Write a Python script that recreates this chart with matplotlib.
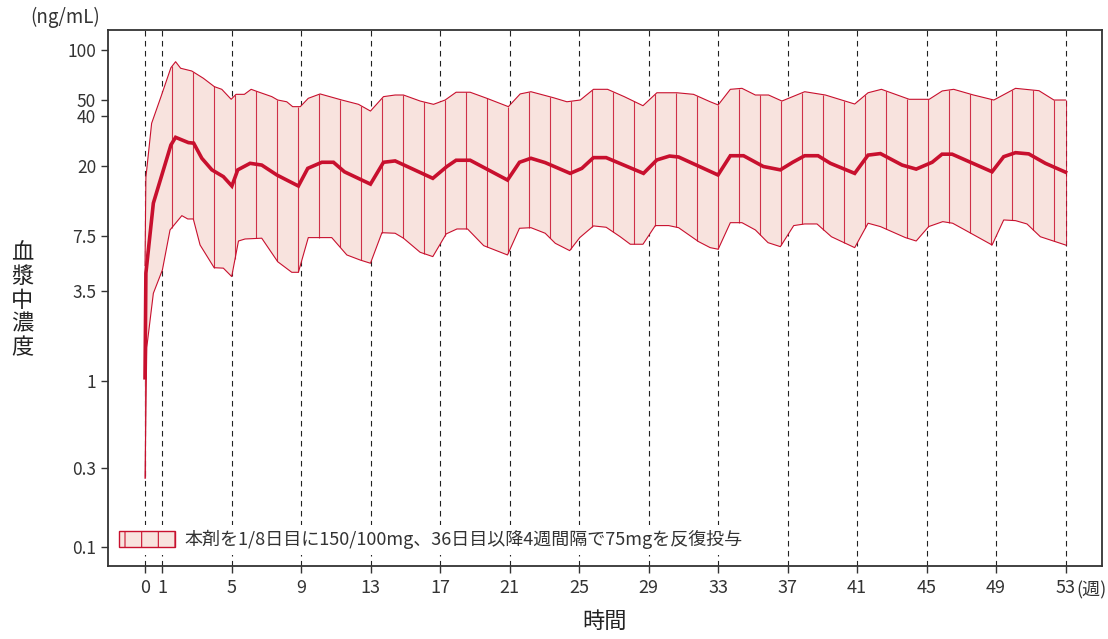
import numpy as np
import matplotlib
matplotlib.use('Agg')
import matplotlib.pyplot as plt
from matplotlib.patches import Patch

plt.rcParams['font.family'] = ['Noto Sans CJK JP', 'DejaVu Sans']

# 中央値 (weeks, ng/mL)
med_t = [0, 0.05, 0.48, 1.49, 1.76, 2.5, 2.8, 3.27, 3.85, 4.51, 5.0, 5.34, 6.05, 6.72, 7.59,
         8.83, 9.37, 10.18, 10.85, 11.48, 12.98, 13.73, 14.4, 16.57, 17.38, 17.91, 18.72,
         20.87, 21.56, 22.22, 23.04, 24.48, 25.15, 25.82, 26.55, 28.7, 29.47, 30.2, 30.72,
         32.99, 33.7, 34.46, 35.6, 36.58, 37.29, 37.98, 38.75, 39.46, 40.86, 41.63, 42.34,
         43.59, 44.4, 45.32, 45.89, 46.47, 48.77, 49.44, 50.12, 50.88, 51.84, 53]
med_v = [1.05, 4.5, 11.9, 26.7, 29.7, 27.6, 27.4, 22.2, 18.9, 17.2, 15.1, 18.9, 20.7, 20.2, 17.6,
         15.1, 19.3, 21.0, 21.0, 18.4, 15.5, 21.0, 21.4, 16.8, 19.8, 21.6, 21.6,
         16.4, 21.0, 22.2, 20.9, 18.0, 19.3, 22.4, 22.4, 18.0, 21.7, 22.9, 22.6,
         17.6, 23.0, 23.0, 19.8, 18.9, 21.0, 23.0, 23.0, 20.7, 18.0, 23.2, 23.7,
         20.2, 19.1, 21.0, 23.5, 23.5, 18.4, 22.7, 24.0, 23.6, 20.7, 18.3]

# 上限
up_t = [0, 0.05, 0.38, 0.92, 1.49, 1.76, 2.05, 2.69, 3.36, 3.99, 4.42, 4.96, 5.24, 5.72, 6.11,
        6.49, 7.3, 7.64, 8.16, 8.5, 8.94, 9.4, 10.08, 11.33, 12.29, 12.98, 13.73, 14.4, 14.88,
        15.84, 16.61, 17.28, 17.91, 18.72, 19.68, 20.92, 21.6, 22.22, 23.52, 24.29, 25.06,
        25.82, 26.63, 27.59, 28.67, 29.47, 30.62, 31.58, 32.54, 33.0, 33.7, 34.37, 35.14,
        35.9, 36.67, 37.98, 39.17, 40.86, 41.63, 42.4, 44.0, 45.15, 45.9, 46.56, 47.7,
        48.87, 50.12, 51.47, 52.33, 53]
up_v = [5.0, 17.0, 36.1, 52.3, 78.2, 85.0, 77.6, 74.7, 67.5, 60.1, 57.9, 50.4, 54.0, 54.0, 57.9,
        56.0, 52.3, 49.9, 48.7, 45.5, 45.5, 51.1, 54.3, 49.9, 47.0, 42.8, 52.3, 53.5, 53.5,
        49.2, 47.0, 49.9, 55.6, 55.6, 51.1, 45.5, 54.3, 56.0, 51.5, 48.7, 49.9,
        57.9, 57.9, 52.3, 46.1, 55.2, 55.2, 54.0, 48.7, 46.6, 57.9, 58.7, 53.5,
        53.5, 49.2, 56.0, 53.5, 47.2, 55.2, 57.9, 50.4, 50.4, 56.6, 57.9, 53.5,
        49.9, 58.7, 56.8, 49.9, 49.9]

# 下限
lo_t = [0, 0.1, 0.48, 1.0, 1.44, 2.12, 2.46, 2.78, 3.17, 3.98, 4.51, 4.99, 5.38, 5.76, 6.72,
        7.64, 8.45, 8.83, 9.4, 10.75, 11.62, 12.38, 12.98, 13.64, 14.4, 14.88, 15.84, 16.57,
        17.34, 17.96, 18.57, 19.5, 20.87, 21.56, 22.22, 23.04, 23.62, 24.45, 25.03, 25.82,
        26.55, 27.36, 27.94, 28.67, 29.38, 30.15, 30.72, 31.87, 32.54, 33.0, 33.7, 34.37,
        35.14, 35.87, 36.58, 37.35, 37.98, 38.69, 39.52, 40.86, 41.63, 42.34, 43.78, 44.4,
        45.12, 45.93, 46.5, 47.13, 48.77, 49.44, 50.12, 50.78, 51.55, 53]
lo_v = [0.26, 1.6, 3.4, 4.7, 8.2, 10.0, 9.55, 9.55, 6.65, 4.85, 4.82, 4.29, 7.03, 7.23, 7.31,
        5.27, 4.55, 4.55, 7.37, 7.37, 5.79, 5.40, 5.16, 7.89, 7.83, 7.31, 6.01, 5.66,
        7.76, 8.31, 8.31, 6.59, 5.79, 8.39, 8.46, 7.83, 6.81, 6.15, 7.37, 8.67,
        8.51, 7.46, 6.72, 6.72, 8.71, 8.71, 8.46, 6.97, 6.41, 6.27, 9.07, 9.07,
        8.2, 6.87, 6.50, 8.71, 8.91, 8.91, 7.46, 6.41, 9.0, 8.59, 7.37, 7.03,
        8.59, 9.2, 9.0, 8.28, 6.65, 9.42, 9.33, 8.91, 7.46, 6.65]

dose_weeks = [0, 1, 5, 9, 13, 17, 21, 25, 29, 33, 37, 41, 45, 49, 53]
yticks = [0.1, 0.3, 1, 3.5, 7.5, 20, 40, 50, 100]
ytick_labels = ['0.1', '0.3', '1', '3.5', '7.5', '20', '40', '50', '100']
legend_label = '本剤を1/8日目に150/100mg、36日目以降4週間隔で75mgを反復投与'

red = '#c8102e'
pink = '#f8e3de'


def log_interp(x, t, v):
    return 10 ** np.interp(x, t, np.log10(v))


fig = plt.figure(figsize=(11.08, 6.39), dpi=100)
ax = fig.add_axes([0.0975, 0.1142, 0.8971, 0.8388])
ax.set_yscale('log')

# band
x_all = np.union1d(up_t, lo_t)
ax.fill_between(x_all, log_interp(x_all, lo_t, lo_v), log_interp(x_all, up_t, up_v),
                facecolor=pink, edgecolor='none', zorder=2)
ax.plot(up_t, up_v, color=red, lw=0.8, zorder=3)
ax.plot(lo_t, lo_v, color=red, lw=0.8, zorder=3)

# vertical hatching inside the band
hatch_x = np.append(np.arange(1.555, 53, 1.2097), [0, 53])
ax.vlines(hatch_x, log_interp(hatch_x, lo_t, lo_v), log_interp(hatch_x, up_t, up_v),
          color=red, lw=0.8, alpha=0.85, zorder=3)

# median
ax.plot(med_t, med_v, color=red, lw=2.6, solid_joinstyle='miter', zorder=4)

# dosing reference lines
for w in dose_weeks:
    ax.axvline(w, color='#222222', lw=0.8, ls=(0, (5, 4)), zorder=1)

ax.set_xlim(-2.13, 55.1)
ax.set_ylim(0.0767, 132)
ax.set_xticks(dose_weeks)
ax.set_xticklabels([str(w) for w in dose_weeks])
ax.set_yticks(yticks)
ax.set_yticklabels(ytick_labels)
ax.minorticks_off()
ax.tick_params(axis='both', length=5, width=1, color='#333333', labelcolor='#333333')
ax.tick_params(axis='x', labelsize=13, pad=4)
ax.tick_params(axis='y', labelsize=12.5)
for s in ax.spines.values():
    s.set_color('#333333')
    s.set_linewidth(1.3)
    s.set_zorder(6)

ax.text(53.6, -0.028, '(週)', transform=ax.get_xaxis_transform(), ha='left', va='top',
        fontsize=13, color='#333333')
fig.text(0.027, 0.972, '(ng/mL)', ha='left', va='center', fontsize=13.5, color='#333333')
fig.text(0.02, 0.53, '血\n漿\n中\n濃\n度', ha='center', va='center', fontsize=16,
         linespacing=1.05, color='#222222')
ax.set_xlabel('時間', fontsize=16, color='#222222', labelpad=10)

plt.rcParams['hatch.color'] = red
plt.rcParams['hatch.linewidth'] = 0.8
handle = Patch(facecolor=pink, edgecolor=red, hatch='|', lw=1)
leg = ax.legend([handle], [legend_label], loc='center left', bbox_to_anchor=(0.006, 0.049),
                frameon=True, fancybox=False, edgecolor='none', facecolor='white',
                framealpha=1, fontsize=13, handlelength=3.1, handleheight=0.95,
                handletextpad=0.5, borderpad=0.3, borderaxespad=0.0)
for t in leg.get_texts():
    t.set_color('#333333')
leg.set_zorder(5)

fig.savefig('out.png', dpi=100)
